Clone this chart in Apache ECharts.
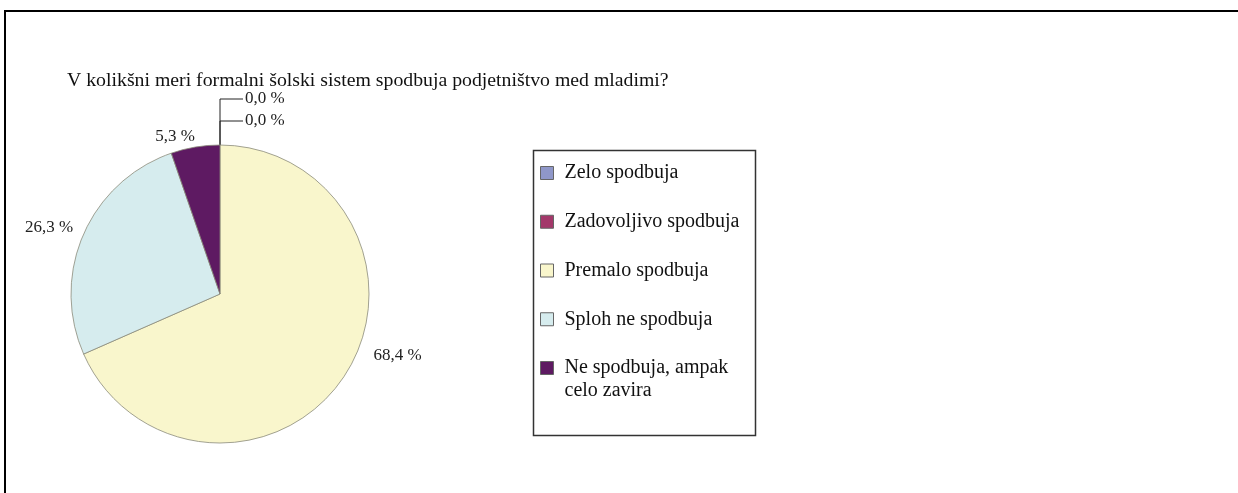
<!DOCTYPE html>
<html>
<head>
<meta charset="utf-8">
<script src="https://cdn.jsdelivr.net/npm/echarts@6/dist/echarts.min.js"></script>
<style>
  html, body { margin: 0; padding: 0; background: #fff; }
  #chart { width: 1238px; height: 493px; }
</style>
</head>
<body>
<div id="chart"></div>
<script>
const titleText = 'V kolikšni meri formalni šolski sistem spodbuja podjetništvo med mladimi?';
const categories = ['Zelo spodbuja', 'Zadovoljivo spodbuja', 'Premalo spodbuja', 'Sploh ne spodbuja', 'Ne spodbuja, ampak\ncelo zavira'];
const values = [0.0, 0.0, 68.4, 26.3, 5.3];
const colors = ['#8f97c9', '#a3386a', '#f9f6cc', '#d6ecee', '#5e1a62'];

const font = 'Liberation Serif';
const cx = 220, cy = 294, radius = 149;

// small nudges so the outside labels sit where the original puts them
const labelShift = [null, null, [17, -24], [2, -4], [6, -3]];

let chart = echarts.init(document.getElementById('chart'));

const option = {
  animation: false,
  title: {
    text: titleText,
    left: 62,
    top: 66,
    textStyle: { fontFamily: font, fontSize: 19.8, fontWeight: 'normal', color: '#111' }
  },
  legend: {
    orient: 'vertical',
    left: 540,
    top: 138.5,
    padding: 0,
    itemGap: -20.25,
    itemWidth: 13,
    itemHeight: 13,
    icon: 'rect',
    itemStyle: { borderColor: '#666', borderWidth: 1 },
    textStyle: { fontFamily: font, fontSize: 20, color: '#111', lineHeight: 23, padding: [23, 0, 23, 6] },
    // two-line entry: keep its first line level with the swatch, like the original
    formatter: name => name.indexOf('\n') >= 0 ? '\n' + name : name,
    data: categories.map((name, i) => ({
      name: name,
      textStyle: name.indexOf('\n') >= 0 ? { padding: [0, 0, 0, 6] } : {}
    }))
  },
  graphic: [
    { type: 'rect', shape: { x: 5, y: 11, width: 1300, height: 600 }, style: { fill: 'none', stroke: '#000', lineWidth: 2 } },
    { type: 'rect', shape: { x: 533.5, y: 150.5, width: 222, height: 285 }, style: { fill: 'none', stroke: '#333', lineWidth: 1.5 } }
  ],
  series: [
    {
      type: 'pie',
      center: [cx, cy],
      radius: radius,
      startAngle: 90,
      clockwise: true,
      minAngle: 0,
      stillShowZeroSum: true,
      avoidLabelOverlap: false,
      itemStyle: { borderColor: '#8a8a7a', borderWidth: 0.8 },
      label: {
        show: true,
        position: 'outside',
        fontFamily: font,
        fontSize: 17,
        color: '#222',
        formatter: p => p.value.toFixed(1).replace('.', ',') + ' %'
      },
      labelLine: { show: false, length: 8, length2: 0, lineStyle: { color: '#222', width: 1 } },
      labelLayout: function (p) {
        // stacked callouts for the two empty slices, drawn up from the top of the pie
        if (p.dataIndex === 0 || p.dataIndex === 1) {
          const ly = cy - radius - 46 + p.dataIndex * 22;
          return {
            x: cx + 25, y: ly, align: 'left', verticalAlign: 'middle',
            labelLinePoints: [[cx, cy - radius], [cx, ly], [cx + 23, ly]]
          };
        }
        const s = labelShift[p.dataIndex];
        return { dx: s[0], dy: s[1] };
      },
      data: categories.map((name, i) => ({
        name: name,
        value: values[i],
        itemStyle: { color: colors[i] },
        labelLine: { show: values[i] === 0 }
      }))
    }
  ]
};
chart.setOption(option);
</script>
</body>
</html>
